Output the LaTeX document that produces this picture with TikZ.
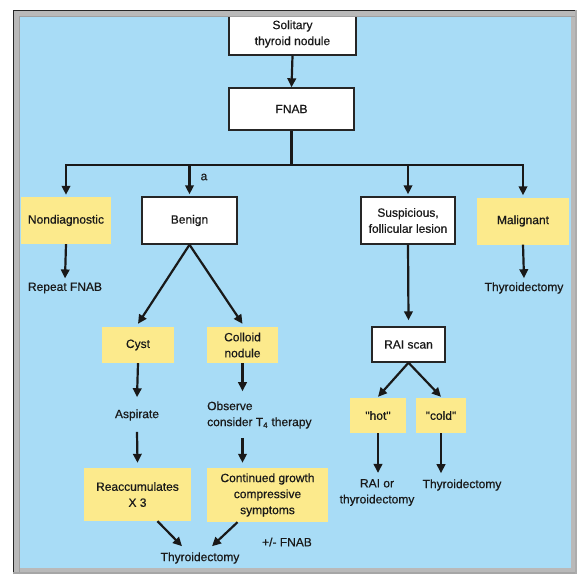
\documentclass[tikz,border=0pt]{standalone}
\usepackage{fontspec}
\setmainfont{Liberation Sans}
\newfontfamily\diafont{Liberation Sans}[FakeBold=0.5]
\usetikzlibrary{arrows.meta,calc}
\definecolor{bgblue}{RGB}{168,220,246}
\definecolor{boxyellow}{RGB}{252,234,140}
\begin{document}
\begin{tikzpicture}[x=1pt,y=-1pt,
  every node/.style={font=\diafont\fontsize{12}{16}\selectfont, text=black!90, inner sep=0pt},
  wbox/.style={draw=black!85, line width=1.4pt, fill=white, align=center},
  ybox/.style={fill=boxyellow, align=center},
  lbl/.style={align=center},
  arr/.style={line width=2.2pt, draw=black!90, -{Triangle[length=9pt,width=8.5pt]}},
  ln/.style={line width=2.2pt, draw=black!90}]
\useasboundingbox (0,0) rectangle (577,574);
\fill[white] (0,0) rectangle (577,574);
\fill[bgblue] (13,10) rectangle (577,574);

% boxes
\node[wbox, minimum width=127pt, minimum height=42pt] (sol) at (292.5,34) {Solitary\\thyroid nodule};
\node[wbox, minimum width=125pt, minimum height=42pt] (fnab) at (291.5,109) {FNAB};
\node[ybox, minimum width=90pt, minimum height=47pt] (nond) at (66,220.5) {Nondiagnostic};
\node[wbox, minimum width=95pt, minimum height=47pt] (benign) at (189.5,220.5) {Benign};
\node[wbox, minimum width=94pt, minimum height=47pt] (susp) at (408,220.5) {Suspicious,\\follicular lesion};
\node[ybox, minimum width=92pt, minimum height=47pt] (malig) at (523,221) {Malignant};

\node[lbl] (rep) at (65,288) {Repeat FNAB};
\node[lbl] (thyA) at (524,288) {Thyroidectomy};
\node at (204,177) (a) {a};

\node[ybox, minimum width=72pt, minimum height=36pt] (cyst) at (138,345) {Cyst};
\node[ybox, minimum width=71pt, minimum height=36pt] (coll) at (242.5,345) {Colloid\\nodule};
\node[lbl] (asp) at (137,415) {Aspirate};
\node[align=left, anchor=west] (obs) at (207,415) {Observe\\consider T\textsubscript{4} therapy};
\node[ybox, minimum width=107pt, minimum height=53pt] (reacc) at (137.5,494.5) {Reaccumulates\\X 3};
\node[ybox, minimum width=121pt, minimum height=54pt] (cont) at (267.5,495) {Continued growth\\compressive\\symptoms};
\node[lbl] (thyC) at (200,558) {Thyroidectomy};
\node[lbl] (pm) at (287,542) {+/- FNAB};

\node[wbox, minimum width=73pt, minimum height=35pt] (rai) at (408.5,344.5) {RAI scan};
\node[ybox, minimum width=56pt, minimum height=35pt] (hot) at (378,415.5) {"hot"};
\node[ybox, minimum width=50pt, minimum height=35pt] (cold) at (441,415.5) {"cold"};
\node[lbl] (raior) at (377,492.5) {RAI or\\thyroidectomy};
\node[lbl] (thyB) at (462,485) {Thyroidectomy};

% connectors
\draw[arr] (sol.south) -- (fnab.north);
\coordinate (hj) at (fnab.south |- 0,165);
\draw[ln] (fnab.south) -- (hj);
\draw[arr] (hj) -| ([yshift=2pt]nond.north);
\draw[arr] (hj) -| ([yshift=2pt]malig.north);
\draw[arr] (benign.north |- hj) -- ([yshift=2pt]benign.north);
\draw[arr] (susp.north |- hj) -- ([yshift=2pt]susp.north);

\draw[arr] (nond.south) -- ([yshift=4pt]rep.north);
\draw[arr] (malig.south) -- ([yshift=4pt]thyA.north);

\draw[arr] (benign.south) -- ([yshift=3pt]cyst.north);
\draw[arr] (benign.south) -- ([yshift=3pt]coll.north);

\draw[arr] (cyst.south) -- ([yshift=12pt]asp.north);
\draw[arr] ([yshift=-11pt]asp.south) -- ([yshift=5pt]reacc.north);
\draw[arr] (coll.south) -- ($(coll.south |- obs.north)+(0,-10)$);
\draw[arr] ($(coll.south |- obs.south)+(0,9)$) -- ([yshift=5pt]cont.north -| coll.south);

\draw[arr] ([xshift=20pt]reacc.south) -- ([xshift=-18pt,yshift=6pt]thyC.north);
\draw[arr] ([xshift=-30pt]cont.south) -- ([xshift=12pt,yshift=6pt]thyC.north);

\draw[arr] (susp.south) -- ([yshift=6pt]rai.north);
\draw[arr] (rai.south) -- ([yshift=1pt]hot.north);
\draw[arr] (rai.south) -- ([yshift=1pt]cold.north);
\draw[arr] (hot.south) -- ([yshift=6pt]raior.north -| hot.south);
\draw[arr] (cold.south) -- ($(cold.south |- thyB.north)+(0,-6)$);

% frame
\draw[gray!55, line width=6pt] (16.5,13.5) rectangle (573.5,571);
\draw[gray!75, line width=1pt] (19.5,574) -- (19.5,16.5) -- (577,16.5);
\draw[black!85, line width=1.2pt] (13.6,574) -- (13.6,10.6) -- (577,10.6);
\draw[gray!70, line width=2pt] (13,573) -- (577,573);
\draw[gray!65, line width=2pt] (576,10) -- (576,574);
\end{tikzpicture}
\end{document}
